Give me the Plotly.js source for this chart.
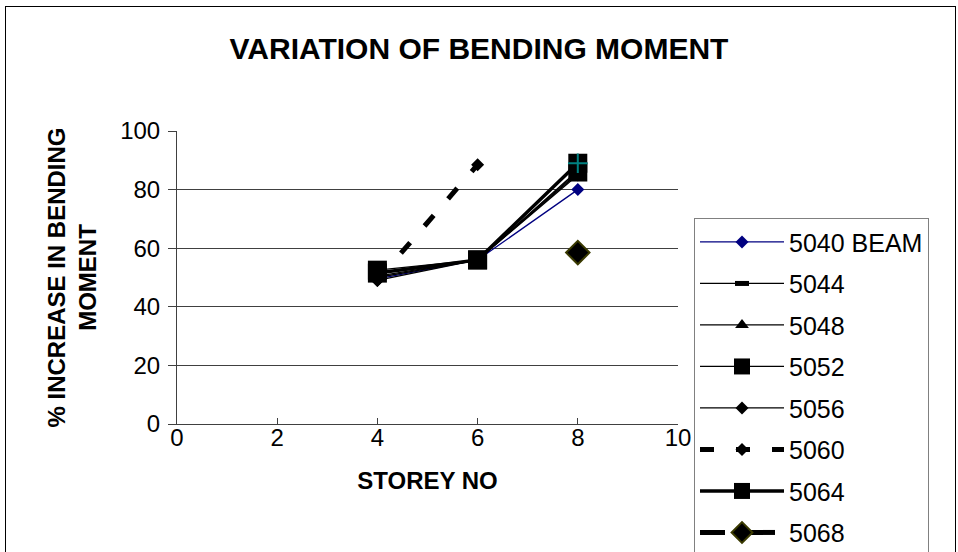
<!DOCTYPE html>
<html>
<head>
<meta charset="utf-8">
<script src="https://cdn.plot.ly/plotly-3.0.1.min.js"></script>
<style>
  html, body { margin: 0; padding: 0; background: #ffffff; overflow: hidden; width: 958px; height: 552px; }
  #frame { position: absolute; left: 5px; top: 6px; width: 951px; height: 600px; border: 1px solid #000; box-sizing: border-box; }
  #chart { position: absolute; left: 0; top: 0; width: 958px; height: 552px; }
</style>
</head>
<body>
<div id="frame"></div>
<div id="chart"></div>
<script>
// ---- data ----
const storeys = [4, 6, 8];
const s5040 = [49.5, 56, 80];
const s5044 = [50.5, 56, 86.5];
const s5048 = [50, 56, 85.5];
const s5052 = [52.5, 56, 86];
const s5056 = [49, 56, 85];
const storeys5060 = [4, 6];
const s5060 = [49, 88.5];
const s5064 = [51.5, 56, 89];
const storeys5068 = [8];
const s5068 = [58.5];
const seriesNames = ['5040 BEAM', '5044', '5048', '5052', '5056', '5060', '5064', '5068'];
const xTicks = [0, 2, 4, 6, 8, 10];
const yTicks = [0, 20, 40, 60, 80, 100];
const gridVals = [20, 40, 60, 80];

const FONT = 'Liberation Sans, Arial, sans-serif';

const traces = [
  {x: storeys, y: s5040, name: seriesNames[0], legendgroup: 'g0', mode: 'lines+markers',
   line: {color: '#000080', width: 1.3}, marker: {symbol: 'diamond', size: 10, color: '#000080'}},
  {x: storeys, y: s5044, name: seriesNames[1], legendgroup: 'g1', mode: 'lines+markers',
   line: {color: '#000000', width: 1.3}, marker: {symbol: 'line-ew', size: 10, color: '#000000', line: {color: '#000000', width: 5}}},
  {x: storeys, y: s5048, name: seriesNames[2], legendgroup: 'g2', mode: 'lines+markers',
   line: {color: '#000000', width: 1.3}, marker: {symbol: 'triangle-up', size: 12, color: '#000000'}},
  {x: storeys, y: s5052, name: seriesNames[3], legendgroup: 'g3', mode: 'lines+markers',
   line: {color: '#000000', width: 1.3}, marker: {symbol: 'square', size: 19, color: '#000000'}},
  {x: storeys, y: s5056, name: seriesNames[4], legendgroup: 'g4', mode: 'lines+markers',
   line: {color: '#000000', width: 1.3}, marker: {symbol: 'diamond', size: 10, color: '#000000'}},
  {x: storeys5060, y: s5060, name: seriesNames[5], legendgroup: 'g5', mode: 'lines+markers',
   line: {color: '#000000', width: 5, dash: '14px,22px'}, marker: {symbol: 'diamond', size: 10, color: '#000000'}},
  {x: storeys, y: s5064, name: seriesNames[6], legendgroup: 'g6', mode: 'lines+markers',
   line: {color: '#000000', width: 3.5}, marker: {symbol: 'square', size: 19, color: '#000000'}},
  {x: storeys5068, y: s5068, name: seriesNames[7], legendgroup: 'g7', mode: 'lines+markers',
   line: {color: '#000000', width: 5, dash: 'longdash'}, marker: {symbol: 'diamond', size: 18, color: '#000000', line: {color: '#3a3a00', width: 2}}},
  // teal cross inside the 5064 square (visible only on the last point, as in the reference)
  {x: storeys, y: s5064, name: seriesNames[6], legendgroup: 'g6', showlegend: false, yaxis: 'y2', mode: 'markers',
   marker: {symbol: 'cross-thin', size: 14, color: '#008080', opacity: [0, 0, 1], line: {color: '#008080', width: 2}}}
];

const layout = {
  width: 958, height: 552,
  margin: {l: 177, r: 280, t: 130.5, b: 127.5, autoexpand: false},
  paper_bgcolor: 'rgba(0,0,0,0)',
  plot_bgcolor: 'rgba(0,0,0,0)',
  font: {family: FONT, color: '#000000', size: 24},
  showlegend: true,
  title: {text: 'VARIATION OF BENDING MOMENT', font: {family: FONT, size: 30, weight: 'bold', color: '#000'},
          x: 0.5, xref: 'container', xanchor: 'center', y: 1 - 48/552, yref: 'container', yanchor: 'middle'},
  xaxis: {
    range: [0, 10], tickvals: xTicks, ticktext: xTicks.map(String),
    showline: true, linecolor: '#404040', linewidth: 1,
    ticks: 'inside', ticklen: 6, tickcolor: '#404040',
    showgrid: false, zeroline: false,
    tickfont: {size: 24}, ticklabelstandoff: -8,
    title: {text: 'STOREY NO', font: {size: 24, weight: 'bold'}, standoff: 22}
  },
  yaxis: {
    range: [0, 100], tickvals: yTicks, ticktext: yTicks.map(String),
    showline: true, linecolor: '#404040', linewidth: 1,
    ticks: 'outside', ticklen: 8, tickcolor: '#404040',
    showgrid: false, zeroline: false,
    tickfont: {size: 24}, ticklabelstandoff: 3,
    title: {text: '% INCREASE IN BENDING<br>MOMENT', font: {size: 24, weight: 'bold'}, standoff: 16}
  },
  yaxis2: {
    overlaying: 'y', side: 'left', range: [0, 100], tickvals: gridVals,
    showticklabels: false, ticks: '', showline: false, zeroline: false,
    showgrid: true, gridcolor: '#404040', gridwidth: 1
  },
  legend: {
    x: (694 - 177) / 501, xanchor: 'left', xref: 'paper',
    y: (424.5 - 218) / 294, yanchor: 'top', yref: 'paper',
    bgcolor: '#ffffff', bordercolor: '#808080', borderwidth: 1,
    font: {family: FONT, size: 25, color: '#000'},
    traceorder: 'grouped', tracegroupgap: 6, itemwidth: 84, maxheight: 600
  }
};

Plotly.newPlot('chart', traces, layout, {displayModeBar: false, staticPlot: true});
</script>
</body>
</html>
